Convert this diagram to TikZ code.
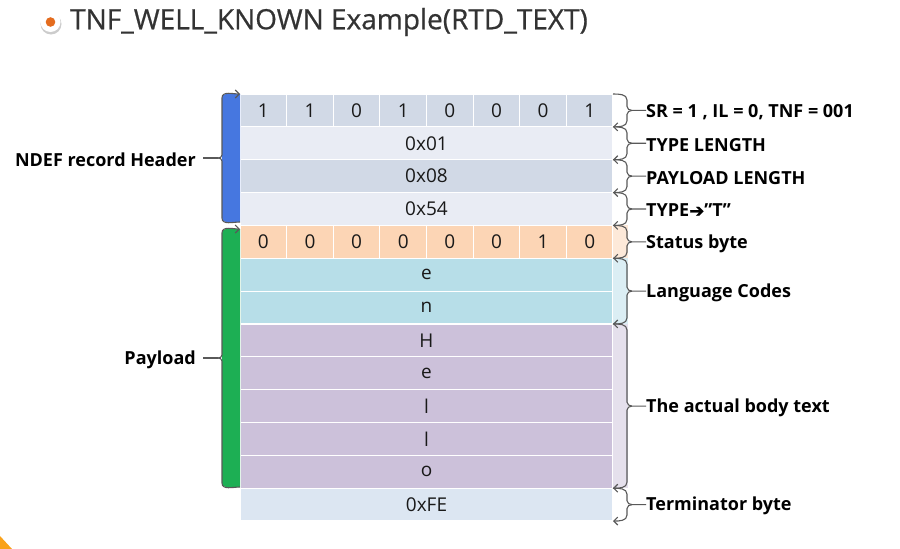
\documentclass[tikz,border=0pt]{standalone}
\usepackage{fontspec}
\setmainfont{Open Sans}
\newfontfamily\titlefont[FakeBold=0.6]{Open Sans}
\newfontfamily\symfont[FakeBold=2]{DejaVu Sans}
\usetikzlibrary{arrows.meta}

\definecolor{hdrA}{HTML}{D1D9E6}
\definecolor{hdrB}{HTML}{E9ECF4}
\definecolor{stat}{HTML}{FCD5B5}
\definecolor{statL}{HTML}{FDE9D9}
\definecolor{lang}{HTML}{B7DEE8}
\definecolor{langL}{HTML}{DBEEF4}
\definecolor{body}{HTML}{CCC1DA}
\definecolor{bodyL}{HTML}{E5E0EC}
\definecolor{term}{HTML}{DCE6F2}
\definecolor{hdrbar}{HTML}{4677E0}
\definecolor{paybar}{HTML}{1DAF54}
\definecolor{bgray}{HTML}{595959}
\definecolor{bullet}{HTML}{E46C1E}
\definecolor{titlec}{HTML}{333333}
\definecolor{corner}{HTML}{F9A21B}

\tikzset{
  cell/.style={draw=white, line width=1.2pt, inner sep=0pt, outer sep=0pt,
    minimum height=32.85pt, font=\fontsize{19}{19}\selectfont, text=black!90},
  lab/.style={inner sep=0pt, font=\bfseries\fontsize{18}{18}\selectfont, yshift=-1.5pt},
  bline/.style={draw=bgray, line width=1.1pt},
  barb/.style={-{Straight Barb[length=4pt,width=8pt]}},
}

\begin{document}
\begin{tikzpicture}[x=1pt,y=1pt]
    \useasboundingbox (0,0) rectangle (900,-549);

    % 标题
    \fill[black!20] (51,-24) circle (10.5pt);
    \fill[white] (50.5,-22) circle (10pt);
    \fill[bullet] (50.5,-22) circle (4.8pt);
    \node[anchor=west, inner sep=0pt, font=\titlefont\fontsize{28}{28}\selectfont, text=titlec] (title) at (70,-22)
        {TNF\_WELL\_KNOWN Example(RTD\_TEXT)};

    % 整行
    \foreach \i/\txt/\col in {0//hdrA, 1/0x01/hdrB, 2/0x08/hdrA, 3/0x54/hdrB, 4//stat,
        5/e/lang, 6/n/lang, 7/H/body, 8/e/body, 9/l/body, 10/l/body, 11/o/body, 12/0xFE/term}
        \node[cell, fill=\col, minimum width=373pt] (r\i) at (426.5,-94-32.85*\i-16.425) {\txt};

    % 位
    \foreach \b [count=\k] in {1,1,0,1,0,0,0,1}
        \node[cell, minimum width=46.625pt] (ba\k) at (240+46.625*\k-23.3125,-110.425) {\b};
    \foreach \b [count=\k] in {0,0,0,0,0,0,1,0}
        \node[cell, minimum width=46.625pt] (bb\k) at (240+46.625*\k-23.3125,-241.825) {\b};

    % 右侧浅色条
    \fill[statL] (r4.north east) rectangle ++(15,-32.85);
    \fill[langL] (r5.north east) rectangle ++(15,-65.7);
    \fill[bodyL] (r7.north east) rectangle ++(15,-164.25);

    % 右括号
    \foreach \a/\b/\n/\t in {0/0/sr/{SR = 1 , IL = 0, TNF = 001}, 1/1/tl/{TYPE LENGTH},
        2/2/pl/{PAYLOAD LENGTH}, 3/3/ty/{TYPE{\symfont ➔}”T”}, 4/4/st/{Status byte},
        5/6/lc/{Language Codes}, 7/11/bt/{The actual body text}, 12/12/tb/{Terminator byte}} {
        \pgfmathsetmacro\T{-94-32.85*\a}
        \pgfmathsetmacro\B{-94-32.85*(\b+1)}
        \pgfmathsetmacro\M{(\T+\B)/2}
        \node[lab, anchor=west] (l\n) at (646,\M) {\t};
        \coordinate (t\n) at (632,\M);
        \draw[bline] (613,\T) to[out=0,in=90] (627,\T-6) -- (627,\M+4) to[out=-90,in=180] (t\n) -- (t\n -| l\n.west);
        \draw[bline, barb] (t\n) to[out=180,in=90] (627,\M-4) -- (627,\B+6) to[out=-90,in=0] (613,\B);
    }

    % 左括号
    \foreach \T/\B/\c/\n/\t in {-94/-222/hdrbar/hd/{NDEF record Header}, -229/-487/paybar/py/{Payload}} {
        \pgfmathsetmacro\M{(\T+\B)/2}
        \node[lab, anchor=east] (l\n) at (196,\M) {\t};
        \fill[\c] (240,\T) -- (226,\T) to[out=180,in=90] (222,\T-4) -- (222,\B+4)
            to[out=-90,in=180] (226,\B) -- (240,\B) -- cycle;
        \draw[bline] (240,\B) to[out=180,in=-90] (222,\B+4) -- (222,\M-3) to[out=90,in=0] (218,\M) coordinate (m\n);
        \draw[bline, shorten >=7pt] (m\n) -- (m\n -| l\n.east);
        \draw[bline, barb] (m\n) to[out=0,in=-90] (222,\M+3) -- (222,\T-4) to[out=90,in=180] (240,\T);
    }

    % 角
    \fill[corner] (0,-536) -- (12,-549) -- (0,-549) -- cycle;
\end{tikzpicture}
\end{document}
